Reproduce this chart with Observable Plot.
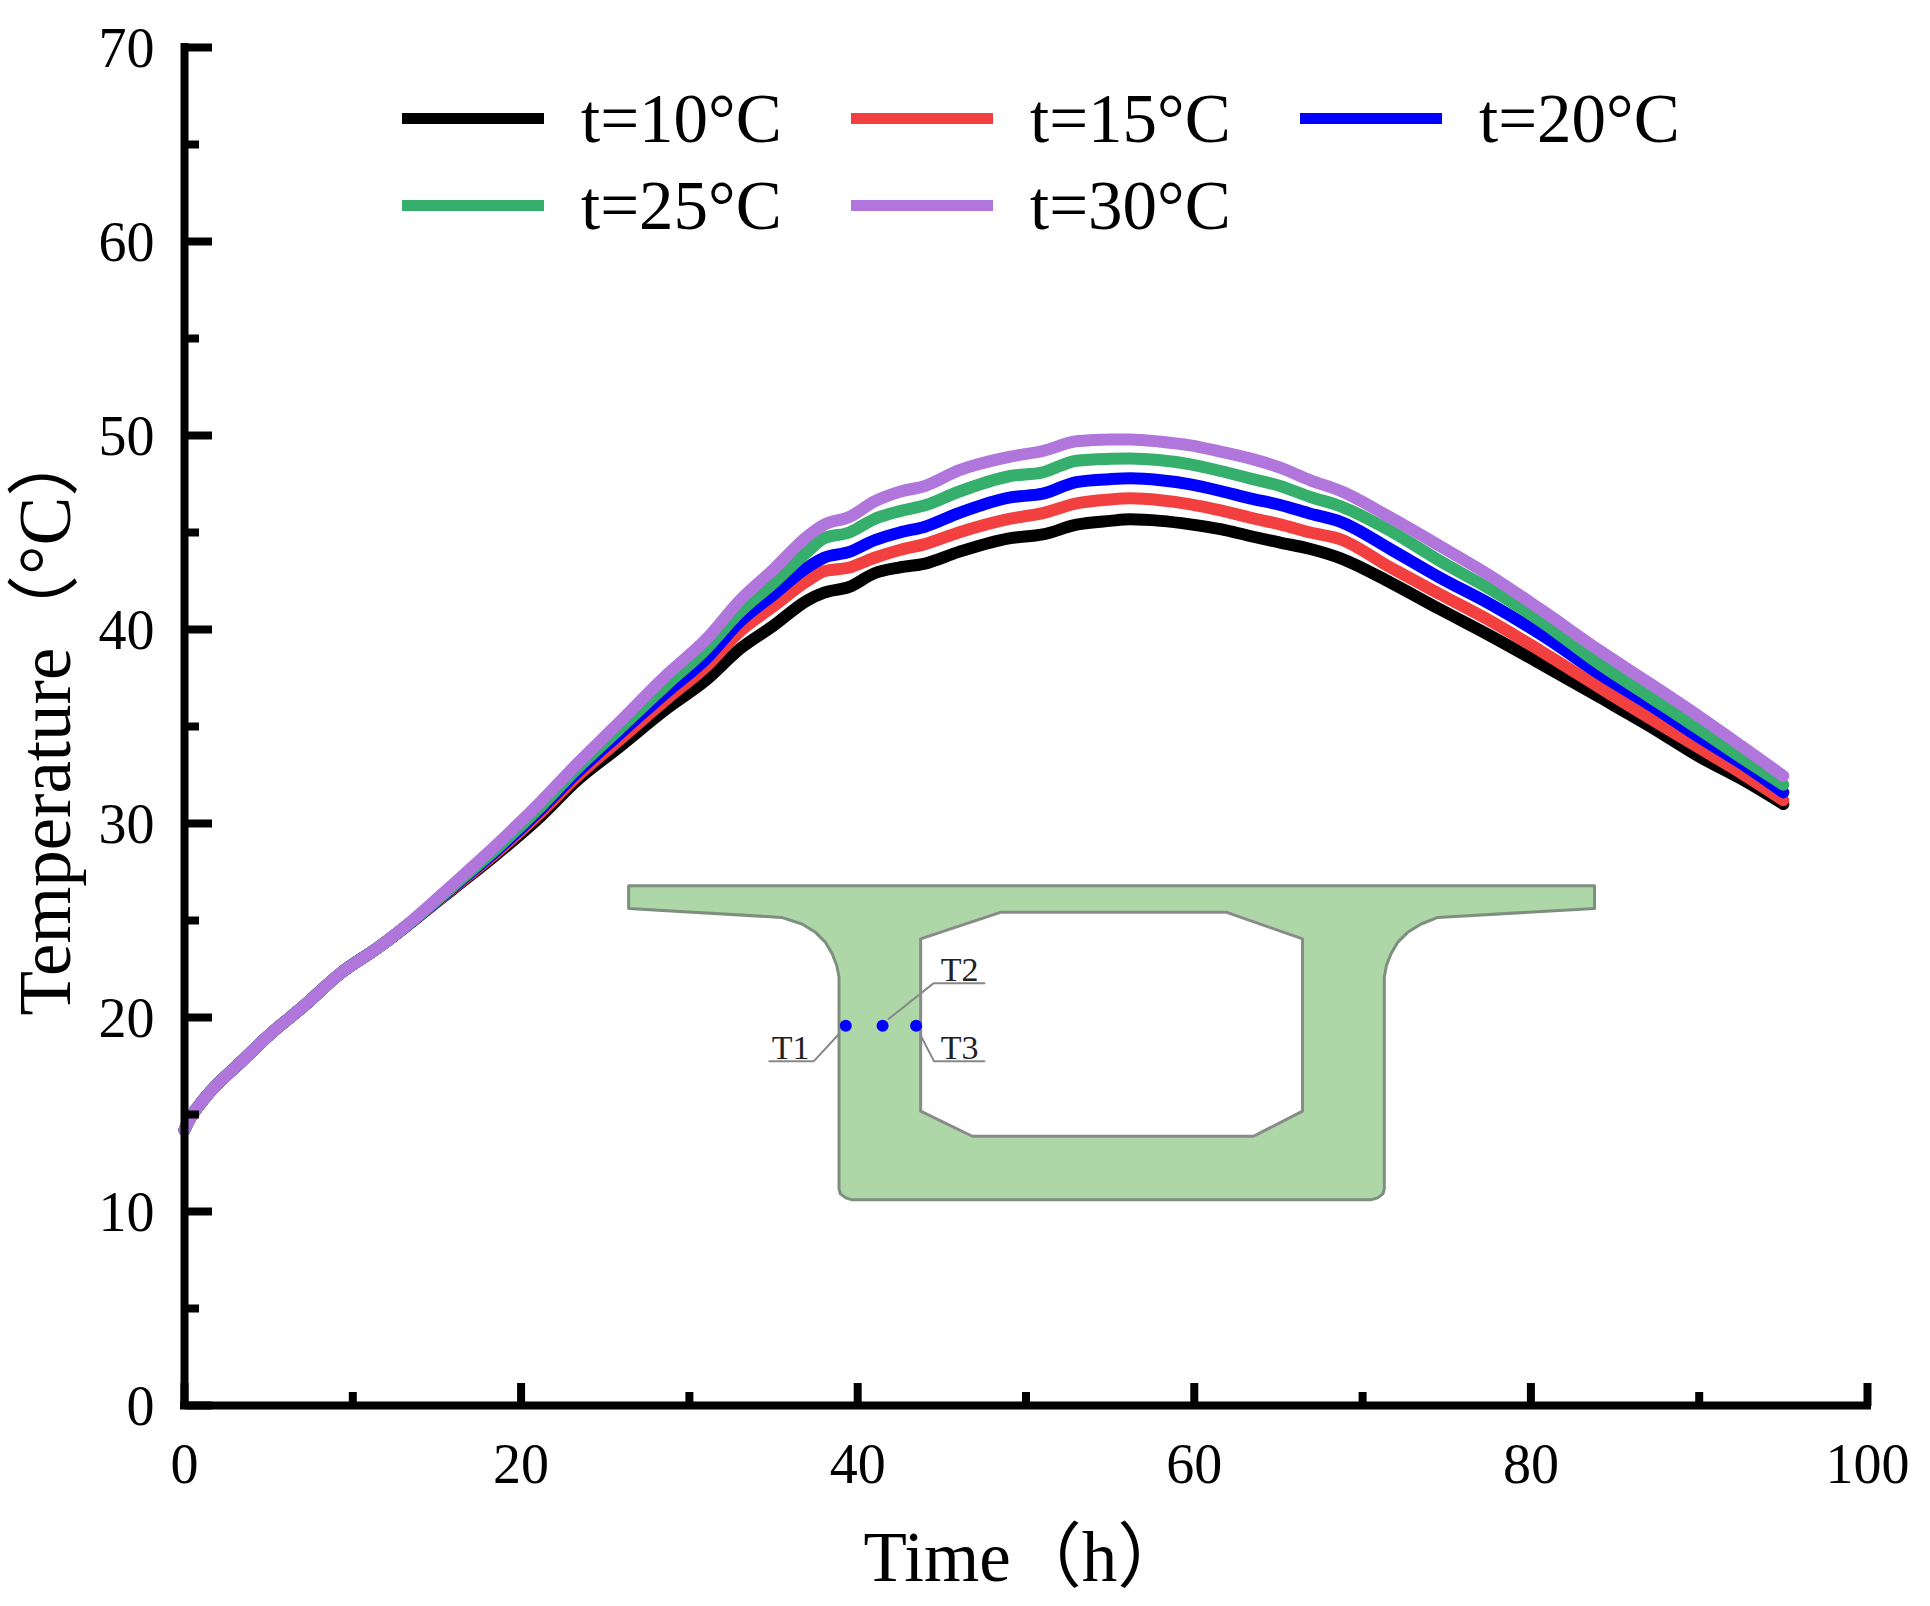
<!DOCTYPE html>
<html>
<head>
<meta charset="utf-8">
<script src="https://cdn.jsdelivr.net/npm/d3@7"></script>
<script src="https://cdn.jsdelivr.net/npm/@observablehq/plot@0.6"></script>
<style>
html,body{margin:0;padding:0;background:#fff}
#wrap{position:relative;width:1930px;height:1606px;overflow:hidden}
#legend{position:absolute;left:402px;top:76px;display:grid;grid-template-columns:repeat(3,449px);grid-auto-rows:87px;
  font-family:"Liberation Serif",serif;font-size:69px;color:#000}
.item{display:flex;align-items:center;white-space:nowrap;line-height:87px}
.swatch{display:inline-block;width:142px;height:11px;margin-right:37px;position:relative;top:-1px}
</style>
</head>
<body>
<div id="wrap"><div id="chart"></div><div id="legend"></div></div>
<script>
const serif = '"Liberation Serif","Noto Sans CJK SC",serif';
const times = [0,0.15,0.4,0.8,1.35,2,3.1,5.1,7.1,9.3,11.5,13.6,16,18.6,21.2,23.3,25.7,28.7,31,33,35,37,38,39.5,41,42.5,44,46,49,51,53,55,56.2,58,59.77,61.56,63.3,65.1,66.9,68.7,71.66,74.6,77.6,80.57,84.1,87.1,90.1,92.5,95];
const t10 = [14.2,14.5,14.9,15.4,16.0,16.6,17.5,19.15,20.6,22.3,23.6,25.0,26.65,28.45,30.4,32.2,33.85,35.95,37.4,39.0,40.2,41.5,41.9,42.2,42.9,43.2,43.4,44.0,44.7,44.9,45.4,45.6,45.68,45.6,45.42,45.17,44.82,44.48,44.15,43.67,42.42,41.04,39.67,38.24,36.5,35.0,33.4,32.3,31.0];
const t15 = [14.2,14.5,14.9,15.4,16.0,16.6,17.5,19.15,20.6,22.3,23.6,25.0,26.7,28.55,30.6,32.4,34.2,36.45,38.1,39.9,41.2,42.5,43.0,43.2,43.7,44.1,44.4,45.0,45.7,46.0,46.5,46.7,46.76,46.66,46.45,46.14,45.77,45.42,45.0,44.65,43.19,41.82,40.44,38.9,37.0,35.4,33.85,32.6,31.2];
const t20 = [14.2,14.5,14.9,15.4,16.0,16.6,17.5,19.15,20.6,22.3,23.6,25.0,26.75,28.65,30.75,32.6,34.5,36.8,38.5,40.4,41.8,43.2,43.7,44.0,44.6,45.0,45.3,46.0,46.8,47.0,47.6,47.75,47.79,47.69,47.48,47.14,46.76,46.42,45.97,45.55,44.14,42.67,41.3,39.76,37.7,36.1,34.4,33.1,31.6];
const t25 = [14.2,14.5,14.9,15.4,16.0,16.6,17.5,19.15,20.6,22.3,23.6,25.02,26.8,28.75,30.9,32.8,34.75,37.2,39.0,40.9,42.4,44.0,44.7,45.0,45.7,46.1,46.4,47.1,47.9,48.1,48.7,48.8,48.82,48.72,48.51,48.17,47.79,47.4,46.83,46.35,45.08,43.53,42.07,40.44,38.2,36.5,34.8,33.4,32.0];
const t30 = [14.2,14.5,14.9,15.4,16.0,16.6,17.5,19.15,20.6,22.3,23.6,25.05,26.9,28.95,31.15,33.05,35.1,37.7,39.5,41.5,43.1,44.8,45.4,45.8,46.6,47.1,47.4,48.2,48.9,49.2,49.7,49.8,49.8,49.68,49.49,49.17,48.82,48.34,47.69,47.14,45.77,44.3,42.76,41.04,38.9,37.2,35.46,34.0,32.45];
const seriesValues = [t10,t15,t20,t25,t30];
const seriesNames = ["t=10°C","t=15°C","t=20°C","t=25°C","t=30°C"];
const seriesColors = ["#000000","#f24040","#0000ff","#36ae6c","#b076dc"];
const majorX = [0,20,40,60,80,100];
const minorX = [10,30,50,70,90];
const majorY = [0,10,20,30,40,50,60,70];
const minorY = [5,15,25,35,45,55,65];
const sectionX = [26.39,83.78,83.78,74.47,73.48,72.68,72.08,71.68,71.41,71.29,71.29,71.21,70.89,70.49,39.68,39.29,38.97,38.89,38.89,38.76,38.49,38.09,37.49,36.69,35.47,26.39,26.39];
const sectionY = [26.79,26.79,25.62,25.16,24.82,24.39,23.87,23.27,22.67,22.07,11.17,10.91,10.70,10.60,10.60,10.70,10.91,11.17,22.07,22.67,23.27,23.87,24.39,24.82,25.16,25.62,26.79];
const holeX = [43.74,48.48,61.93,66.43,66.43,63.52,46.81,43.74,43.74];
const holeY = [24.05,25.42,25.42,24.05,15.17,13.88,13.88,15.17,24.05];
const gaugeX = [39.29,41.48,43.47];
const gaugeY = [19.58,19.58,19.58];
const gaugeNames = ["T1","T2","T3"];
const gaugeLabelX = [36.02,46.05,46.05];
const gaugeLabelY = [18.41,22.45,18.41];
const leaderX = [[38.89,37.38,34.75],[41.83,44.50,47.53],[43.74,44.54,47.53]];
const leaderY = [[19.15,17.74,17.74],[19.92,21.76,21.76],[19.07,17.74,17.74]];

const pts = (xs,ys) => xs.map((x,i)=>({x,y:ys[i]}));
const gray = "#7f8f7f";
const chart = Plot.plot({
  width:1930, height:1606,
  marginLeft:184, marginRight:63, marginTop:47, marginBottom:201,
  style:{background:"#fff",overflow:"visible",fontFamily:serif},
  x:{domain:[0,100],label:null},
  y:{domain:[0,70],label:null},
  marks:[
    // cross-section inset
    Plot.line(pts(sectionX,sectionY),{x:"x",y:"y",fill:"#aed7a8",stroke:gray,strokeWidth:3}),
    Plot.line(pts(holeX,holeY),{x:"x",y:"y",fill:"#fff",stroke:"#8a8a8a",strokeWidth:3}),
    ...leaderX.map((lx,i)=>Plot.line(pts(lx,leaderY[i]),{x:"x",y:"y",stroke:"#888",strokeWidth:2})),
    Plot.dot(pts(gaugeX,gaugeY),{x:"x",y:"y",r:6,fill:"#0000ff"}),
    Plot.text(gaugeNames,{x:(d,i)=>gaugeLabelX[i],y:(d,i)=>gaugeLabelY[i],text:d=>d,fontSize:34,fill:"#222",fontFamily:serif}),
    // curves
    ...seriesValues.map((vals,i)=>Plot.line(pts(times,vals),{x:"x",y:"y",stroke:seriesColors[i],strokeWidth:12,curve:"monotone-x",strokeLinecap:"round",strokeLinejoin:"round"})),
    // tick marks
    Plot.axisX({ticks:majorX,anchor:"top",frameAnchor:"bottom",tickSize:23,strokeWidth:8,fill:"none",label:null,stroke:"#000"}),
    Plot.axisX({ticks:minorX,anchor:"top",frameAnchor:"bottom",tickSize:14,strokeWidth:8,fill:"none",label:null,stroke:"#000"}),
    Plot.axisY({ticks:majorY,anchor:"right",frameAnchor:"left",tickSize:27,strokeWidth:8,fill:"none",label:null,stroke:"#000"}),
    Plot.axisY({ticks:minorY,anchor:"right",frameAnchor:"left",tickSize:14,strokeWidth:8,fill:"none",label:null,stroke:"#000"}),
    // tick labels
    Plot.axisX({ticks:majorX,anchor:"bottom",tickSize:0,tickPadding:38,fontSize:56,label:null,fontFamily:serif,fill:"#000"}),
    Plot.axisY({ticks:majorY,anchor:"left",tickSize:0,tickPadding:30,dy:2,fontSize:56,label:null,fontFamily:serif,fill:"#000"}),
    // axis lines
    Plot.ruleX([0],{stroke:"#000",strokeWidth:8,strokeLinecap:"square"}),
    Plot.ruleY([0],{stroke:"#000",strokeWidth:8,strokeLinecap:"square"}),
    // titles
    Plot.text(["Time（h）"],{frameAnchor:"bottom-left",dx:679,dy:175,textAnchor:"start",lineAnchor:"bottom",fontSize:71,fontFamily:serif,fill:"#000"}),
    Plot.text(["Temperature（°C）"],{frameAnchor:"left",rotate:-90,dx:-115,dy:289,textAnchor:"start",lineAnchor:"bottom",fontSize:73,fontFamily:serif,fill:"#000"})
  ]
});
document.getElementById("chart").appendChild(chart);
const legend = document.getElementById("legend");
seriesNames.forEach((name,i)=>{
  const item = document.createElement("div"); item.className="item";
  const sw = document.createElement("span"); sw.className="swatch"; sw.style.background=seriesColors[i];
  item.appendChild(sw); item.appendChild(document.createTextNode(name));
  legend.appendChild(item);
});
</script>
</body>
</html>
